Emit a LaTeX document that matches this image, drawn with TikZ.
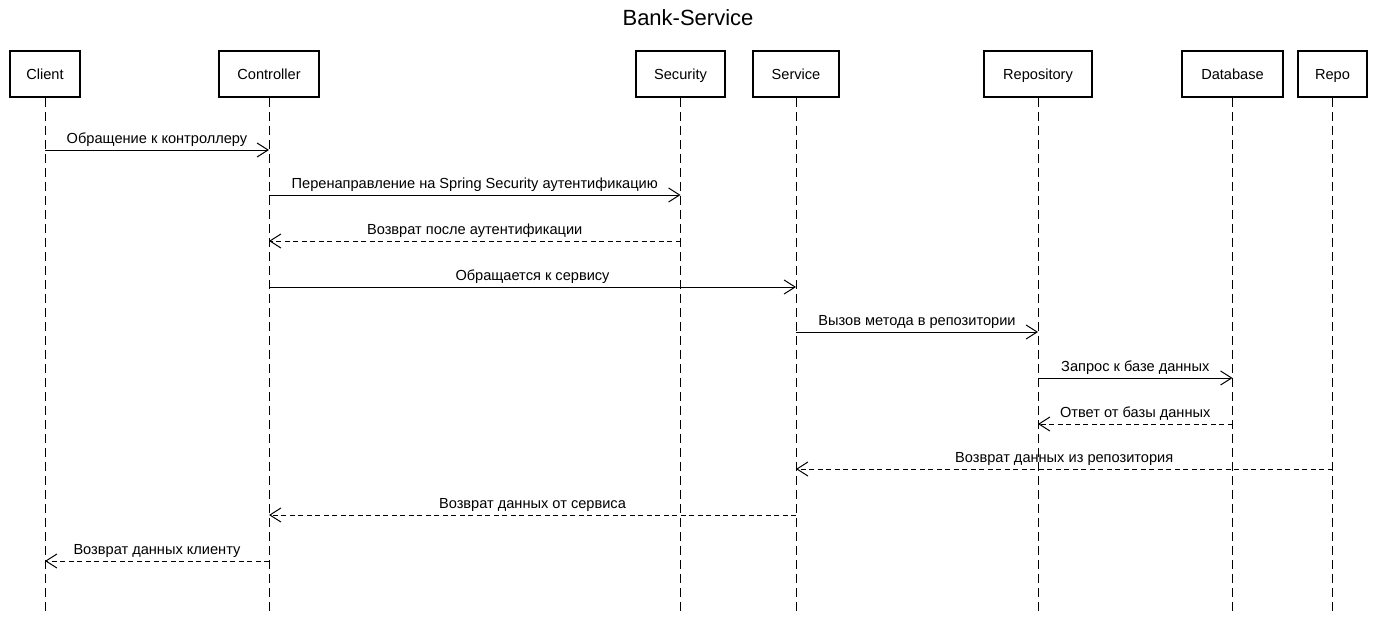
\documentclass[tikz,border=0pt]{standalone}
\usepackage{fontspec}
\setmainfont{Liberation Sans}
\usetikzlibrary{arrows.meta}
\begin{document}
\begin{tikzpicture}[x=1pt,y=-1pt,
  actor/.style={draw,line width=1.5pt,minimum height=46pt,inner sep=0pt,text height=13pt,text depth=1pt,font=\fontsize{14.6}{17}\selectfont},
  life/.style={line width=1pt,dash pattern=on 9pt off 5pt},
  msg/.style={line width=1pt,-{Straight Barb[length=11pt,width=14pt,line width=1pt]}},
  ret/.style={msg,dash pattern=on 5pt off 3.5pt},
  lbl/.style={midway,above,inner sep=3pt,font=\fontsize{14.6}{17}\selectfont}]
\useasboundingbox (0,0) rectangle (1376,618);
\node[font=\fontsize{22}{26}\selectfont] (title) at (688,18) {Bank-Service};
\node[actor,minimum width=70pt] (cl) at (45,74) {Client};
\node[actor,minimum width=100pt] (co) at (269,74) {Controller};
\node[actor,minimum width=89pt] (se) at (680.5,74) {Security};
\node[actor,minimum width=86pt] (sv) at (796,74) {Service};
\node[actor,minimum width=108pt] (re) at (1038,74) {Repository};
\node[actor,minimum width=101pt] (db) at (1232.5,74) {Database};
\node[actor,minimum width=69pt] (rp) at (1332.5,74) {Repo};
\foreach \n in {cl,co,se,sv,re,db,rp}{
  \coordinate (\n e) at (\n.south |- 0,612);
  \draw[life] (\n.south) -- (\n e);
}
\foreach \n in {cl,co,se,sv,re,db,rp}{
  \foreach \k/\y in {1/150,2/195,3/241,4/287,5/332,6/378,7/424,8/469,9/515,10/561}{
    \coordinate (\n\k) at (\n.south |- 0,\y);
  }
}
\draw[msg] (cl1) -- node[lbl]{Обращение к контроллеру} (co1);
\draw[msg] (co2) -- node[lbl]{Перенаправление на Spring Security аутентификацию} (se2);
\draw[ret] (se3) -- node[lbl]{Возврат после аутентификации} (co3);
\draw[msg] (co4) -- node[lbl]{Обращается к сервису} (sv4);
\draw[msg] (sv5) -- node[lbl]{Вызов метода в репозитории} (re5);
\draw[msg] (re6) -- node[lbl]{Запрос к базе данных} (db6);
\draw[ret] (db7) -- node[lbl]{Ответ от базы данных} (re7);
\draw[ret] (rp8) -- node[lbl]{Возврат данных из репозитория} (sv8);
\draw[ret] (sv9) -- node[lbl]{Возврат данных от сервиса} (co9);
\draw[ret] (co10) -- node[lbl]{Возврат данных клиенту} (cl10);
\end{tikzpicture}
\end{document}
